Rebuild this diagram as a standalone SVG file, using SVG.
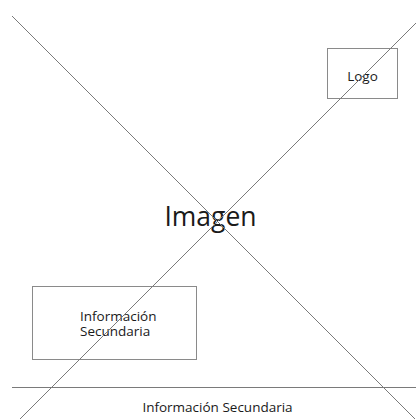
<svg xmlns="http://www.w3.org/2000/svg" width="416" height="419" viewBox="0 0 416 419">
<style>
.bg{fill:#ffffff}
.box{fill:none;stroke:#8a8a8a;stroke-width:1}
.ln{stroke:#7a7a7a;stroke-width:1;fill:none}
text{font-family:"Open Sans","Noto Sans","Liberation Sans",sans-serif;fill:#1a1a1a}
.s{font-size:13.5px}
.big{font-size:26.5px}
</style>
<rect class="bg" x="0" y="0" width="416" height="419"/>
<g id="imagen"><text class="big" x="210.5" y="225.7" text-anchor="middle">Imagen</text></g>
<g id="logo"><rect class="box" x="327.5" y="48.5" width="70" height="50"/><text class="s" x="362.5" y="81" text-anchor="middle">Logo</text></g>
<g id="info-box"><rect class="box" x="32.5" y="286.5" width="164" height="73"/><text class="s" x="80" y="320.7">Información</text><text class="s" x="80" y="335.7">Secundaria</text></g>
<g id="footer"><text class="s" x="217.5" y="411.7" text-anchor="middle">Información Secundaria</text></g>
<g id="connectors">
<line class="ln" x1="12" y1="16" x2="415" y2="419"/>
<line class="ln" x1="416" y1="23" x2="20" y2="419"/>
<line class="ln" x1="12" y1="387.5" x2="416" y2="387.5"/>
</g>
</svg>
